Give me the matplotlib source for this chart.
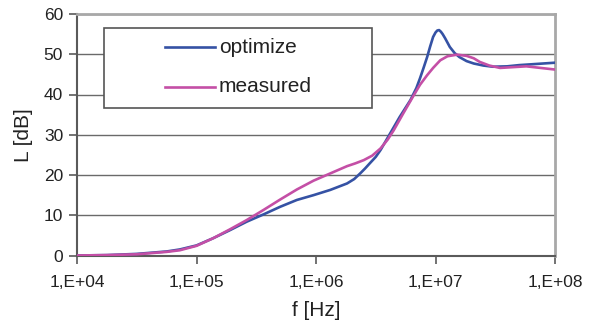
import numpy as np
import matplotlib.pyplot as plt
from matplotlib.ticker import FuncFormatter, FixedLocator, NullLocator
from matplotlib.patches import Rectangle
from matplotlib.lines import Line2D

plt.rcParams['font.family'] = ['Liberation Sans', 'DejaVu Sans']

# values (log10 of frequency, level in dB)
opt_logf = [4.0, 4.25, 4.5, 4.75, 4.86, 5.0, 5.14, 5.28, 5.42, 5.56, 5.70, 5.84,
            5.98, 6.12, 6.26, 6.32, 6.37, 6.41, 6.45, 6.50, 6.54, 6.62, 6.70,
            6.79, 6.84, 6.87, 6.90, 6.93, 6.955, 6.98, 7.0, 7.015, 7.03, 7.045,
            7.06, 7.08, 7.10, 7.12, 7.16, 7.20, 7.26, 7.32, 7.40, 7.48, 7.60,
            7.70, 7.85, 8.0]
opt_L = [0.0, 0.1, 0.4, 1.0, 1.5, 2.5, 4.3, 6.3, 8.4, 10.2, 12.1, 13.8,
         15.0, 16.3, 17.9, 19.0, 20.4, 21.6, 22.9, 24.5, 26.2, 30.3, 34.4,
         38.6, 41.6, 44.0, 46.6, 49.3, 51.9, 54.3, 55.4, 55.9, 56.0, 55.6,
         55.0, 54.0, 52.9, 51.8, 50.3, 49.3, 48.3, 47.7, 47.2, 46.9, 47.0,
         47.3, 47.6, 47.9]

meas_logf = [4.0, 4.25, 4.5, 4.75, 4.86, 5.0, 5.14, 5.28, 5.42, 5.56, 5.70, 5.84,
             5.98, 6.12, 6.26, 6.33, 6.40, 6.47, 6.54, 6.60, 6.65, 6.73, 6.81,
             6.87, 6.93, 6.98, 7.04, 7.10, 7.18, 7.26, 7.32, 7.37, 7.45, 7.54,
             7.65, 7.76, 7.88, 8.0]
meas_L = [0.0, 0.1, 0.3, 0.9, 1.3, 2.4, 4.3, 6.5, 8.8, 11.3, 13.9, 16.4,
          18.6, 20.4, 22.2, 22.9, 23.7, 24.8, 26.6, 28.8, 31.1, 35.3, 39.4,
          42.4, 44.8, 46.6, 48.5, 49.5, 49.9, 49.6, 49.0, 48.1, 47.2, 46.6,
          46.8, 47.0, 46.6, 46.2]

x_ticks = [1e4, 1e5, 1e6, 1e7, 1e8]
y_ticks = [0, 10, 20, 30, 40, 50, 60]

blue = '#3552a4'
pink = '#c44fa6'

fig = plt.figure(figsize=(5.92, 3.30), dpi=100)
ax = fig.add_axes([77 / 592, 1 - 255.5 / 330, (555 - 77) / 592, (255.5 - 14) / 330])

ax.plot(10 ** np.array(opt_logf), opt_L, color=blue, lw=1.9, zorder=3,
        solid_joinstyle='round')
ax.plot(10 ** np.array(meas_logf), meas_L, color=pink, lw=1.9, zorder=3,
        solid_joinstyle='round')

ax.set_xscale('log')
ax.set_xlim(1e4, 1e8)
ax.set_ylim(0, 60)
ax.xaxis.set_major_locator(FixedLocator(x_ticks))
ax.xaxis.set_minor_locator(NullLocator())
ax.xaxis.set_major_formatter(FuncFormatter(lambda v, p: '1,E+%02d' % round(np.log10(v))))
ax.set_yticks(y_ticks)

ax.yaxis.grid(True, color='#6a6a6a', lw=1.0)
ax.set_axisbelow(True)

for s in ['left', 'bottom']:
    ax.spines[s].set_color('#5a5a5a')
    ax.spines[s].set_linewidth(1.5)
for s in ['top', 'right']:
    ax.spines[s].set_color('#a8a8a8')
    ax.spines[s].set_linewidth(2.0)

ax.tick_params(axis='both', direction='out', length=6, width=1.2, color='#5a5a5a',
               labelsize=12.5, labelcolor='#222222')
ax.tick_params(axis='x', pad=8)
ax.tick_params(axis='y', pad=4)

ax.set_xlabel('f [Hz]', fontsize=15, color='#222222', labelpad=8)
ax.set_ylabel('L [dB]', fontsize=15, color='#222222', labelpad=8)

# legend box drawn by hand to match the original position
def px(x, y):
    return ((x - 77) / (555 - 77), (255.5 - y) / (255.5 - 14))

x0, y0 = px(104, 107.5)
x1, y1 = px(372, 27.5)
ax.add_patch(Rectangle((x0, y0), x1 - x0, y1 - y0, transform=ax.transAxes,
                       facecolor='white', edgecolor='#555555', lw=1.2, zorder=4))
for ypix, col, lab in [(47.3, blue, 'optimize'), (86.7, pink, 'measured')]:
    a = px(165, ypix)
    b = px(215, ypix)
    ax.add_line(Line2D([a[0], b[0]], [a[1], a[1]], transform=ax.transAxes,
                       color=col, lw=1.9, zorder=5))
    t = px(219, ypix)
    ax.text(t[0], t[1], lab, transform=ax.transAxes, fontsize=15,
            color='#222222', va='center', ha='left', zorder=5)

fig.savefig('out.png', dpi=100)
